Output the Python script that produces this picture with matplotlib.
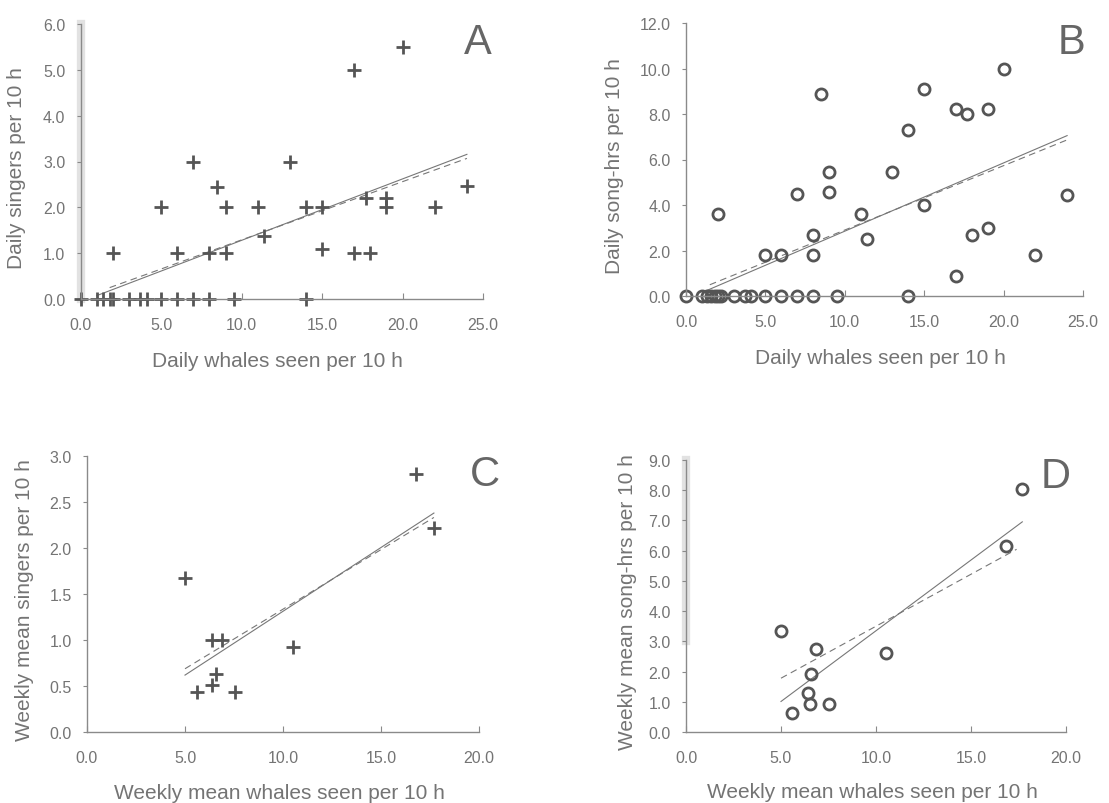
import matplotlib
matplotlib.use("Agg")
import matplotlib.pyplot as plt

plt.rcParams["font.family"] = ["Liberation Sans", "DejaVu Sans"]

# ── data ──────────────────────────────────────────────────────────────────────
# A: daily singers vs daily whales seen
a_x = [0, 1.0, 1.4, 1.8, 2.0, 3.0, 3.7, 4.1, 5.0, 6.0, 7.0, 8.0, 9.5, 14.0,
       2.0, 6.0, 8.0, 9.0, 15.0, 17.0, 18.0,
       11.4,
       5.0, 9.0, 11.0, 14.0, 15.0, 17.7, 19.0, 19.0, 22.0, 24.0,
       8.5, 7.0, 13.0, 17.0, 20.0]
a_y = [0, 0, 0, 0, 0, 0, 0, 0, 0, 0, 0, 0, 0, 0,
       1.0, 1.0, 1.0, 1.0, 1.1, 1.0, 1.0,
       1.38,
       2.0, 2.0, 2.0, 2.0, 2.0, 2.2, 2.2, 2.0, 2.0, 2.47,
       2.44, 3.0, 3.0, 5.0, 5.5]

# B: daily song-hrs vs daily whales seen
b_x = [0, 1.0, 1.3, 1.6, 1.8, 2.0, 2.2, 3.0, 3.7, 4.1, 5.0, 6.0, 7.0, 8.0, 9.5, 14.0,
       17.0, 5.0, 6.0, 8.0, 22.0, 11.4, 8.0, 18.0, 19.0, 2.0, 11.0,
       15.0, 24.0, 7.0, 9.0, 9.0, 13.0,
       14.0, 17.0, 17.7, 19.0, 8.5, 15.0, 20.0]
b_y = [0, 0, 0, 0, 0, 0, 0, 0, 0, 0, 0, 0, 0, 0, 0, 0,
       0.9, 1.8, 1.8, 1.8, 1.8, 2.5, 2.7, 2.7, 3.0, 3.6, 3.6,
       4.0, 4.45, 4.5, 4.55, 5.45, 5.45,
       7.3, 8.2, 8.0, 8.2, 8.9, 9.1, 10.0]

# C: weekly mean singers vs weekly mean whales seen
c_x = [5.0, 5.6, 6.4, 6.9, 6.6, 6.4, 7.55, 10.5, 16.8, 17.7]
c_y = [1.67, 0.44, 1.0, 1.0, 0.63, 0.51, 0.43, 0.92, 2.8, 2.22]

# D: weekly mean song-hrs vs weekly mean whales seen
d_x = [5.0, 5.6, 6.85, 6.6, 6.4, 6.5, 7.5, 10.5, 16.85, 17.7]
d_y = [3.35, 0.63, 2.75, 1.93, 1.3, 0.94, 0.94, 2.6, 6.17, 8.04]

# regression lines: (x start, x end, intercept, slope)
a_solid = (1.0, 24.0, -0.06, 0.134)
a_dash = (1.8, 24.0, 0.02, 0.127)
b_solid = (1.1, 24.0, -0.15, 0.30)
b_dash = (1.5, 24.0, 0.07, 0.283)
c_solid = (5.0, 17.7, -0.075, 0.1387)
c_dash = (5.0, 17.7, 0.04, 0.1295)
d_solid = (5.0, 17.7, -1.33, 0.468)
d_dash = (5.0, 17.4, 0.06, 0.344)

GREY_TXT = "#747474"
GREY_AX = "#8a8a8a"
GREY_PT = "#555555"
SMUDGE = "#e2e2e2"

fig = plt.figure(figsize=(11.09, 8.04), dpi=100)
W, H = 1109, 804


def make_ax(left, right, top, bottom):
    return fig.add_axes([left / W, (H - bottom) / H, (right - left) / W, (bottom - top) / H])


def style(ax, xmax, xstep, ymax, ystep, xlabel, ylabel, letter, lpos, ylx, xly):
    ax.set_xlim(0, xmax)
    ax.set_ylim(0, ymax)
    ax.set_xticks([i * xstep for i in range(int(round(xmax / xstep)) + 1)])
    ax.set_yticks([i * ystep for i in range(int(round(ymax / ystep)) + 1)])
    ax.xaxis.set_major_formatter(matplotlib.ticker.FormatStrFormatter("%.1f"))
    ax.yaxis.set_major_formatter(matplotlib.ticker.FormatStrFormatter("%.1f"))
    for s in ["top", "right"]:
        ax.spines[s].set_visible(False)
    for s in ["left", "bottom"]:
        ax.spines[s].set_color(GREY_AX)
        ax.spines[s].set_linewidth(1.0)
    ax.tick_params(axis="x", direction="in", length=4, width=0.8, color=GREY_AX,
                   labelsize=11.5, labelcolor=GREY_TXT, pad=13)
    ax.tick_params(axis="y", direction="out", length=3, width=0.8, color=GREY_AX,
                   labelsize=11.5, labelcolor=GREY_TXT, pad=8)
    ax.set_xlabel(xlabel, fontsize=15, color=GREY_TXT)
    ax.set_ylabel(ylabel, fontsize=15, color=GREY_TXT)
    ax.xaxis.set_label_coords(0.49, xly)
    ax.yaxis.set_label_coords(ylx, 0.48)
    ax.text(lpos[0], lpos[1], letter, transform=ax.transAxes, fontsize=30,
            color="#666666", ha="center", va="center")


def reg(ax, line, ls):
    x0, x1, b, m = line
    ax.plot([x0, x1], [b + m * x0, b + m * x1], color="#777777", lw=0.8, ls=ls)


# ── A ─────────────────────────────────────────────────────────────────────────
ax = make_ax(80.7, 483, 25, 300)
ax.axvline(0, color=SMUDGE, lw=6, zorder=0, clip_on=False)
reg(ax, a_solid, "-")
reg(ax, a_dash, (0, (6, 4)))
ax.plot(a_x, a_y, ls="none", marker="+", ms=10, mew=2, color=GREY_PT, clip_on=False)
style(ax, 25, 5, 6, 1, "Daily whales seen per 10 h", "Daily singers per 10 h",
      "A", (0.988, 0.935), -0.135, -0.19)

# ── B ─────────────────────────────────────────────────────────────────────────
ax = make_ax(686, 1083, 24, 297)
reg(ax, b_solid, "-")
reg(ax, b_dash, (0, (6, 4)))
ax.plot(b_x, b_y, ls="none", marker="o", ms=8, mew=2, mfc="none", color=GREY_PT, clip_on=False)
style(ax, 25, 5, 12, 2, "Daily whales seen per 10 h", "Daily song-hrs per 10 h",
      "B", (0.97, 0.93), -0.156, -0.19)

# ── C ─────────────────────────────────────────────────────────────────────────
ax = make_ax(87, 479, 457, 733)
reg(ax, c_solid, "-")
reg(ax, c_dash, (0, (6, 4)))
ax.plot(c_x, c_y, ls="none", marker="+", ms=10, mew=2, color=GREY_PT, clip_on=False)
style(ax, 20, 5, 3, 0.5, "Weekly mean whales seen per 10 h", "Weekly mean singers per 10 h",
      "C", (1.015, 0.935), -0.135, -0.185)

# ── D ─────────────────────────────────────────────────────────────────────────
ax = make_ax(686, 1066, 461, 733)
ax.plot([0, 0], [3.0, 9.0], color=SMUDGE, lw=6, zorder=0, clip_on=False)
reg(ax, d_solid, "-")
reg(ax, d_dash, (0, (6, 4)))
ax.plot(d_x, d_y, ls="none", marker="o", ms=8, mew=2, mfc="none", color=GREY_PT, clip_on=False)
style(ax, 20, 5, 9, 1, "Weekly mean whales seen per 10 h", "Weekly mean song-hrs per 10 h",
      "D", (0.974, 0.94), -0.13, -0.185)

fig.savefig("out.png", dpi=100)
